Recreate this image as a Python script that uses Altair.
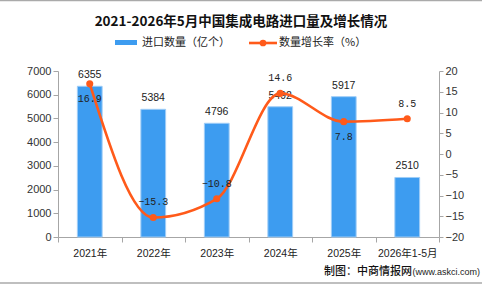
import altair as alt
import pandas as pd

categories = ["2021年", "2022年", "2023年", "2024年", "2025年", "2026年1-5月"]
import_volume = [6355, 5384, 4796, 5492, 5917, 2510]
growth_rate = [16.9, -15.3, -10.8, 14.6, 7.8, 8.5]
rate_label_side = ["below", "above", "above", "above", "below", "above"]
vol_ticks = [0, 1000, 2000, 3000, 4000, 5000, 6000, 7000]
rate_ticks = [-20, -15, -10, -5, 0, 5, 10, 15, 20]

title_text = "2021-2026年5月中国集成电路进口量及增长情况"
legend_bar = "进口数量（亿个）"
legend_line = "数量增长率（%）"
source_cn = "制图：中商情报网"
source_url = "(www.askci.com)"

BAR = "#3d9cf0"
LINE = "#ff5a1a"
AXIS = "#a6a6a6"
NUM_FONT = "Liberation Sans"
CJK = "Liberation Sans, Noto Sans CJK SC"

df = pd.DataFrame({
    "cat": categories,
    "vol": import_volume,
    "rate": growth_rate,
    "side": rate_label_side,
})

x_enc = alt.X("cat:N", sort=categories, title=None,
              scale=alt.Scale(paddingInner=0, paddingOuter=0),
              axis=alt.Axis(labelAngle=0, tickBand="extent", domainColor=AXIS,
                            tickColor=AXIS, tickSize=5, labelPadding=6,
                            labelFont=CJK, labelFontSize=10.5, labelColor="#222",
                            grid=False, labelOverlap=False))

y_vol = alt.Y("vol:Q", title=None,
              scale=alt.Scale(domain=[0, 7000], nice=False),
              axis=alt.Axis(values=vol_ticks, grid=False, format="d",
                            labelOverlap=False, labelFlush=False,
                            domainColor=AXIS, tickColor=AXIS, tickSize=5,
                            labelPadding=2, labelFont=NUM_FONT, labelFontSize=11,
                            labelColor="#333"))

y_rate = alt.Y("rate:Q", title=None,
               scale=alt.Scale(domain=[-20, 20], nice=False),
               axis=alt.Axis(orient="right", values=rate_ticks,
                             labelOverlap=False, labelFlush=False, format="d",
                             grid=False, domainColor=AXIS, tickColor=AXIS,
                             tickSize=4, labelPadding=2, labelFont=NUM_FONT,
                             labelFontSize=11, labelColor="#333"))

base = alt.Chart(df)

bars = base.mark_bar(color=BAR, stroke="#9fcdf7", strokeWidth=1,
                     width=alt.RelativeBandSize(0.39)).encode(x=x_enc, y=y_vol)
bar_text = base.mark_text(baseline="bottom", dy=-6, font=NUM_FONT,
                          fontSize=10.5, color="#222").encode(
    x=x_enc, y=y_vol, text="vol:Q")

left = alt.layer(bars, bar_text)

line = base.mark_line(color=LINE, strokeWidth=2.6, interpolate="monotone").encode(
    x=x_enc, y=y_rate)
pts = base.mark_point(filled=True, color=LINE, size=50, opacity=1).encode(
    x=x_enc, y=y_rate)
rate_above = base.transform_filter("datum.side == 'above'").mark_text(
    font="Liberation Mono", fontSize=10, color="#222", baseline="middle", dy=-15
).encode(x=x_enc, y=y_rate, text=alt.Text("rate:Q", format=".1f"))
rate_below = base.transform_filter("datum.side == 'below'").mark_text(
    font="Liberation Mono", fontSize=10, color="#222", baseline="middle", dy=15
).encode(x=x_enc, y=y_rate, text=alt.Text("rate:Q", format=".1f"))

right = alt.layer(line, pts, rate_above, rate_below)

one = alt.Chart(pd.DataFrame({"k": [0]}))

title_mark = one.mark_text(text=title_text, font="Noto Sans CJK SC", fontSize=13.5,
                           fontWeight="bold", color="#111", align="center",
                           baseline="middle").encode(x=alt.value(183), y=alt.value(-49))
leg_rect = one.mark_rect(color=BAR).encode(
    x=alt.value(57), x2=alt.value(79), y=alt.value(-31), y2=alt.value(-26))
leg_text1 = one.mark_text(text=legend_bar, font="Noto Sans CJK SC", fontSize=11,
                          color="#222", align="left", baseline="middle").encode(
    x=alt.value(84), y=alt.value(-28))
leg_line = one.mark_rule(color=LINE, strokeWidth=2.6).encode(
    x=alt.value(191), x2=alt.value(219), y=alt.value(-28))
leg_dot = one.mark_point(filled=True, color=LINE, size=45, opacity=1).encode(
    x=alt.value(205), y=alt.value(-28))
leg_text2 = one.mark_text(text=legend_line, font="Noto Sans CJK SC", fontSize=11,
                          color="#222", align="left", baseline="middle").encode(
    x=alt.value(221), y=alt.value(-28))
src_cn = one.mark_text(text=source_cn, font="Noto Sans CJK SC", fontSize=11,
                       fontWeight=500, color="#111", align="right",
                       baseline="middle").encode(x=alt.value(354), y=alt.value(201))
src_url = one.mark_text(text=source_url, font="Liberation Sans", fontSize=9,
                        color="#222", align="right",
                        baseline="middle").encode(x=alt.value(422), y=alt.value(201))
top_rule = one.mark_rule(color="#aaaaaa", strokeWidth=1.5).encode(
    x=alt.value(-58), x2=alt.value(424), y=alt.value(-70.5))
bot_rule = one.mark_rule(color="#aaaaaa", strokeWidth=1.5).encode(
    x=alt.value(-58), x2=alt.value(424), y=alt.value(212))

chart = alt.layer(
    left, right, title_mark, leg_rect, leg_text1, leg_line, leg_dot, leg_text2,
    src_cn, src_url, top_rule, bot_rule
).resolve_scale(y="independent").properties(
    width=381, height=166,
    autosize=alt.AutoSizeParams(type="none"),
    padding={"left": 58, "top": 71, "right": 43, "bottom": 47},
    background="white",
).configure_view(stroke=None)

chart.save("out.html", embed_options={"renderer": "svg", "actions": False})
